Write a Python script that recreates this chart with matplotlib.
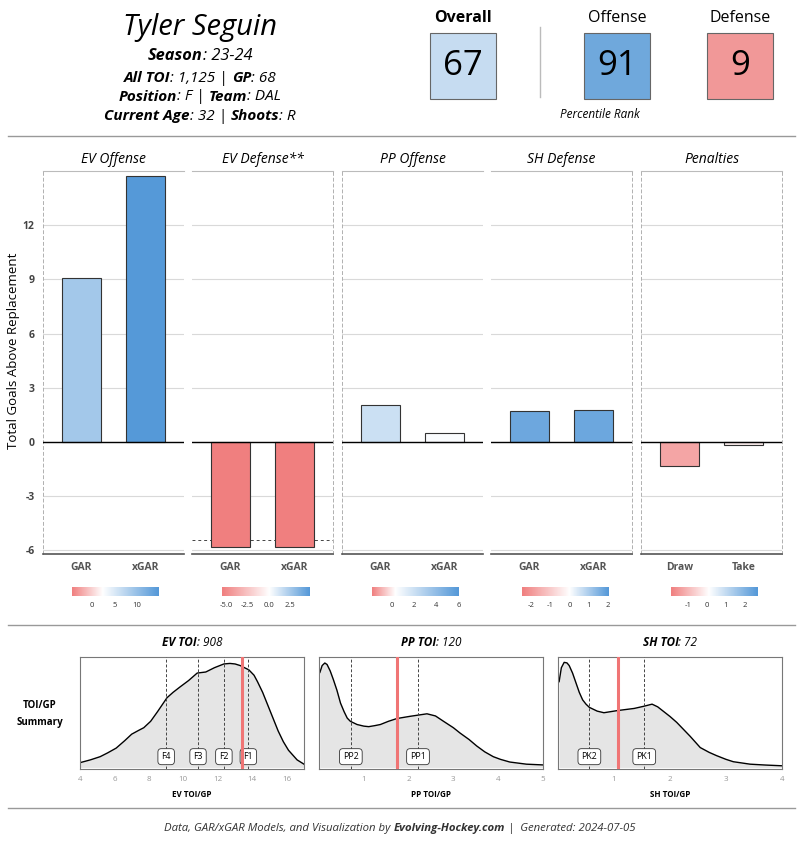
import matplotlib
matplotlib.use("Agg")
import matplotlib.pyplot as plt
import numpy as np
from matplotlib.colors import LinearSegmentedColormap, TwoSlopeNorm
from matplotlib.patches import Rectangle
from matplotlib.lines import Line2D

plt.rcParams['font.family'] = ['Open Sans', 'DejaVu Sans']

# header info
player = "Tyler Seguin"
info_lines = [
    [("Season", "bold"), (": 23-24", "normal")],
    [("All TOI", "bold"), (": 1,125 |", "normal"), ("GP", "bold"), (": 68", "normal")],
    [("Position", "bold"), (": F |", "normal"), ("Team", "bold"), (": DAL", "normal")],
    [("Current Age", "bold"), (": 32 |", "normal"), ("Shoots", "bold"), (": R", "normal")],
]
rank_labels = ["Overall", "Offense", "Defense"]
ranks = [67, 91, 9]
rank_colors = ["#c6dcf1", "#6fa8dc", "#f19898"]

# GAR panels
panel_titles = ["EV Offense", "EV Defense**", "PP Offense", "SH Defense", "Penalties"]
bar_labels = [["GAR", "xGAR"], ["GAR", "xGAR"], ["GAR", "xGAR"], ["GAR", "xGAR"], ["Draw", "Take"]]
bar_values = [[9.1, 14.75], [-5.83, -5.82], [2.04, 0.47], [1.73, 1.76], [-1.32, -0.17]]
# colour scale per panel: (min, white point, max)
scale_ranges = [(-4.4, 2.4, 14.9), (-5.47, 0.0, 4.7), (-1.8, 0.3, 6.05),
                (-2.47, 0.0, 2.05), (-1.94, 0.1, 2.73)]
scale_ticks = [[0, 5, 10], [-5.0, -2.5, 0.0, 2.5], [0, 2, 4, 6], [-2, -1, 0, 1, 2], [-1, 0, 1, 2]]
ev_def_ref = -5.4

# TOI/GP densities
toi_titles = [("EV TOI", ": 908"), ("PP TOI", ": 120"), ("SH TOI", ": 72")]
ev_x = [4.0, 4.6, 5.17, 5.6, 6.1, 6.6, 7.0, 7.4, 7.7, 8.1, 8.5, 9.05, 9.4, 9.8, 10.3, 10.8,
        11.3, 11.8, 12.35, 12.7, 13.0, 13.3, 13.8, 14.1, 14.3, 14.6, 14.9, 15.2, 15.5,
        15.8, 16.1, 16.6, 17.0]
ev_y = [0.044, 0.07, 0.10, 0.135, 0.18, 0.25, 0.31, 0.345, 0.37, 0.43, 0.52, 0.65, 0.70,
        0.75, 0.81, 0.88, 0.89, 0.93, 0.965, 0.97, 0.965, 0.95, 0.91, 0.86, 0.80, 0.70,
        0.58, 0.46, 0.34, 0.24, 0.16, 0.07, 0.03]
pp_x = [0.02, 0.07, 0.13, 0.18, 0.25, 0.32, 0.40, 0.48, 0.56, 0.63, 0.70, 0.85, 1.0,
        1.11, 1.25, 1.37, 1.55, 1.74, 2.04, 2.25, 2.41, 2.6, 2.78, 3.0, 3.15, 3.35, 3.52,
        3.7, 3.89, 4.05, 4.26, 4.63, 5.0]
pp_y = [0.886, 0.95, 0.974, 0.96, 0.90, 0.82, 0.72, 0.60, 0.52, 0.46, 0.43, 0.40, 0.385,
        0.38, 0.39, 0.40, 0.43, 0.456, 0.477, 0.49, 0.50, 0.48, 0.43, 0.37, 0.32, 0.26,
        0.20, 0.145, 0.10, 0.075, 0.05, 0.03, 0.023]
sh_x = [0.02, 0.06, 0.11, 0.16, 0.2, 0.26, 0.32, 0.38, 0.44, 0.5, 0.56, 0.7, 0.82, 1.06,
        1.36, 1.53, 1.68, 1.78, 1.89, 2.0, 2.12, 2.24, 2.36, 2.54, 2.7, 2.83, 3.0, 3.13,
        3.43, 3.7, 4.0]
sh_y = [0.80, 0.93, 0.98, 0.975, 0.95, 0.88, 0.79, 0.70, 0.63, 0.59, 0.56, 0.525, 0.51,
        0.53, 0.55, 0.57, 0.59, 0.565, 0.52, 0.475, 0.42, 0.355, 0.29, 0.185, 0.14, 0.11,
        0.075, 0.053, 0.03, 0.022, 0.015]
dens_x = [ev_x, pp_x, sh_x]
dens_y = [ev_y, pp_y, sh_y]
ref_lines = [{"F4": 9.0, "F3": 10.85, "F2": 12.35, "F1": 13.77},
             {"PP2": 0.71, "PP1": 2.21},
             {"PK2": 0.56, "PK1": 1.54}]
player_toi = [13.42, 1.75, 1.07]
dens_xlim = [(4, 17), (0, 5), (0, 4)]
dens_ticks = [[4, 6, 8, 10, 12, 14, 16], [1, 2, 3, 4, 5], [1, 2, 3, 4]]
dens_xlabels = ["EV TOI/GP", "PP TOI/GP", "SH TOI/GP"]

footer = [("Data, GAR/xGAR Models, and Visualization by", "normal", False),
          ("Evolving-Hockey.com", "bold", True),
          ("|  Generated: 2024-07-05", "normal", True)]

cmap = LinearSegmentedColormap.from_list("gar", ["#f07f7f", "#ffffff", "#5498d8"])

fig = plt.figure(figsize=(8, 8.5), dpi=100)
renderer = fig.canvas.get_renderer()


def fx(px):
    return px / 800


def fy(px):
    return 1 - px / 850


def rich_line(x, y, parts, size, color="black"):
    # parts: (text, weight, space_before)
    probe = fig.text(0, 0, "a a", fontsize=size, fontstyle="italic")
    probe2 = fig.text(0, 0, "aa", fontsize=size, fontstyle="italic")
    sp = (probe.get_window_extent(renderer).width - probe2.get_window_extent(renderer).width) / fig.bbox.width
    probe.remove()
    probe2.remove()
    objs, widths = [], []
    for txt, w, gap in parts:
        t = fig.text(0, y, txt, fontsize=size, fontstyle="italic", fontweight=w,
                     color=color, ha="left", va="center")
        objs.append(t)
        widths.append(t.get_window_extent(renderer).width / fig.bbox.width + (sp if gap else 0))
    cur = x - sum(widths) / 2
    for (txt, w, gap), t, wd in zip(parts, objs, widths):
        t.set_x(cur + (sp if gap else 0))
        cur += wd


# header
fig.text(fx(200), fy(27), player, fontsize=21, fontstyle="italic", ha="center", va="center")
for k, (line, ypx) in enumerate(zip(info_lines, [56, 78, 97, 116])):
    parts = [(t, w, (w == "bold" and j > 0)) for j, (t, w) in enumerate(line)]
    rich_line(fx(200), fy(ypx), parts, 11.8 if k == 0 else 11)

for lab, val, left, col in zip(rank_labels, ranks, [430, 584, 707], rank_colors):
    fig.add_artist(Rectangle((fx(left), fy(99)), fx(66), 66 / 850, transform=fig.transFigure,
                             facecolor=col, edgecolor="#666666", lw=0.8))
    fig.text(fx(left + 33), fy(66), str(val), fontsize=25, ha="center", va="center")
    fig.text(fx(left + 33), fy(18), lab, fontsize=11.5, ha="center", va="center",
             fontweight="bold" if lab == "Overall" else "normal")
fig.add_artist(Line2D([fx(540), fx(540)], [fy(27), fy(97)], color="#bbbbbb", lw=1))
fig.text(fx(600), fy(115), "Percentile Rank", fontsize=8.5, fontstyle="italic", ha="center", va="center")

for ypx in [136, 625, 808]:
    fig.add_artist(Line2D([fx(8), fx(795)], [fy(ypx), fy(ypx)], color="#999999", lw=1))

# bar panels
panel_lefts = [43, 192, 342, 491, 641]
cbar_lefts = [72, 222, 372, 522, 671]
dashed_sides = [(True, False), (False, True), (True, False), (False, True), (True, True)]
for i in range(5):
    ax = fig.add_axes([fx(panel_lefts[i]), fy(554), fx(141), 383 / 850])
    vmin, vc, vmax = scale_ranges[i]
    norm = TwoSlopeNorm(vcenter=vc, vmin=vmin, vmax=vmax)
    vals = np.array(bar_values[i])
    xpos = np.arange(len(vals))
    ax.bar(xpos, vals, width=0.6, color=cmap(norm(vals)), edgecolor="#333333", lw=0.8, zorder=3)
    ax.axhline(0, color="black", lw=1, zorder=4)
    if i == 1:
        ax.axhline(ev_def_ref, color="#444444", ls=(0, (3, 3)), lw=0.7, zorder=2)
    ax.set_xlim(-0.6, 1.6)
    ax.set_ylim(-6.2, 15.0)
    ax.set_yticks([-6, -3, 0, 3, 6, 9, 12])
    ax.grid(axis="y", color="#d9d9d9", lw=0.8)
    ax.set_axisbelow(True)
    ax.set_xticks(xpos, bar_labels[i], fontweight="bold", color="#555555", fontsize=7.5)
    ax.tick_params(length=0, pad=6)
    if i == 0:
        ax.set_yticks([-6, -3, 0, 3, 6, 9, 12], ["-6", "-3", "0", "3", "6", "9", "12"],
                      fontweight="bold", color="#444444", fontsize=7.5)
    else:
        ax.set_yticklabels([])
    ax.spines["top"].set_color("#bbbbbb")
    ax.spines["top"].set_linewidth(0.8)
    ax.spines["bottom"].set_color("#555555")
    ax.spines["bottom"].set_linewidth(1.2)
    for side, on in zip(["left", "right"], dashed_sides[i]):
        if on:
            ax.spines[side].set_color("#b0b0b0")
            ax.spines[side].set_linewidth(0.7)
            ax.spines[side].set_linestyle((0, (3, 3)))
        else:
            ax.spines[side].set_visible(False)
    ax.set_title(panel_titles[i], fontstyle="italic", fontsize=10, pad=6)

    cax = fig.add_axes([fx(cbar_lefts[i]), fy(596), fx(87), 9 / 850])
    grad = np.linspace(vmin, vmax, 256)
    cax.imshow(cmap(norm(grad))[None, :, :], extent=[vmin, vmax, 0, 1], aspect="auto")
    ticks = scale_ticks[i]
    if any(float(t) != int(t) for t in ticks):
        labs = [f"{t:.1f}" for t in ticks]
    else:
        labs = [f"{t:g}" for t in ticks]
    cax.set_xticks(ticks, labs)
    cax.set_yticks([])
    cax.tick_params(labelsize=5.5, length=0, pad=4, colors="#333333")
    for s in cax.spines.values():
        s.set_visible(False)

fig.text(fx(14), fy(351), "Total Goals Above Replacement", rotation=90, fontsize=9.5,
         ha="center", va="center")

# TOI density panels
fig.text(fx(40), fy(714), "TOI/GP\nSummary", ha="center", va="center", fontsize=7,
         fontweight="bold", linespacing=1.8)
for i, left in enumerate([80, 319, 558]):
    ax = fig.add_axes([fx(left), fy(769), fx(224), 112 / 850])
    ax.fill_between(dens_x[i], dens_y[i], 0, color="#e5e5e5", lw=0)
    ax.plot(dens_x[i], dens_y[i], color="black", lw=1)
    for lab, v in ref_lines[i].items():
        ax.axvline(v, color="#444444", ls=(0, (3, 2)), lw=0.7, zorder=3)
        ax.text(v, 0.1, lab, ha="center", va="center", fontsize=6.3, zorder=4,
                bbox=dict(boxstyle="round,pad=0.4", fc="white", ec="#333333", lw=0.6))
    ax.axvline(player_toi[i], color="#f07575", lw=2.2, zorder=5)
    ax.set_xlim(*dens_xlim[i])
    ax.set_ylim(-0.015, 1.03)
    ax.set_yticks([])
    ax.set_xticks(dens_ticks[i])
    ax.tick_params(axis="x", labelsize=5.8, labelcolor="#999999", length=0, pad=5)
    ax.set_xlabel(dens_xlabels[i], fontsize=5.8, fontweight="bold", labelpad=5)
    for s in ax.spines.values():
        s.set_color("#777777")
        s.set_linewidth(0.8)
    rich_line(fx(left + 112), fy(643), [(toi_titles[i][0], "bold", False),
                                        (toi_titles[i][1], "normal", False)], 8.5)

rich_line(fx(400), fy(828), footer, 8.2, color="#333333")

fig.savefig("out.png", dpi=100)
